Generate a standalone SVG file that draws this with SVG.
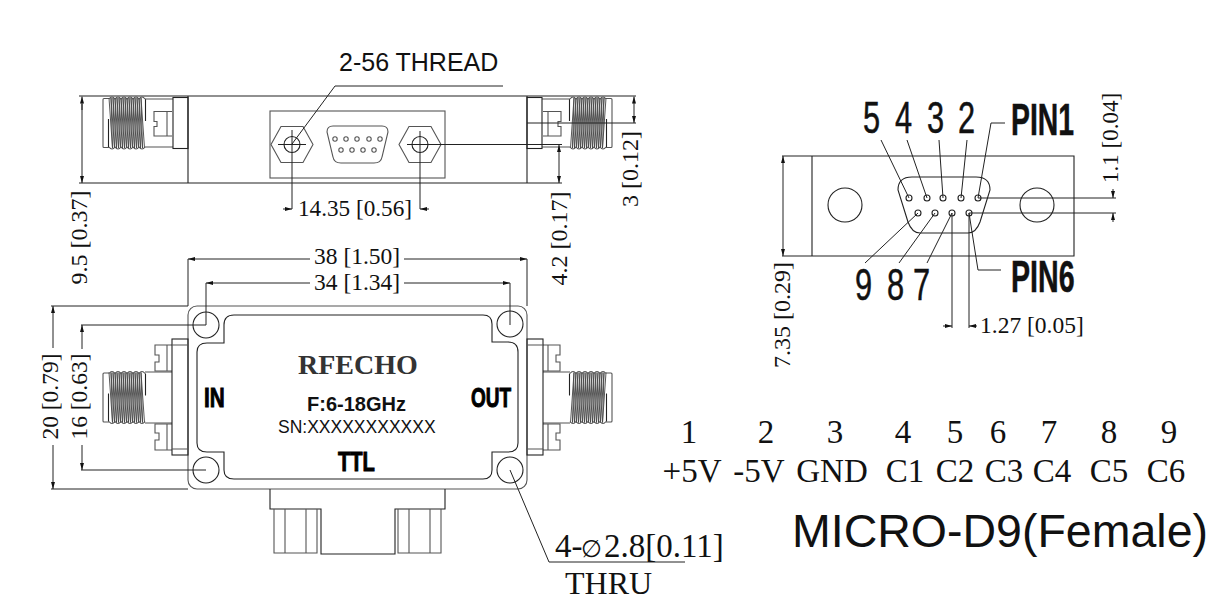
<svg xmlns="http://www.w3.org/2000/svg" xmlns:xlink="http://www.w3.org/1999/xlink" width="1210" height="602" viewBox="0 0 1210 602">
<style>
.l{fill:none;stroke:#222;stroke-width:1.1}
.g{fill:none;stroke:#555;stroke-width:1.1}
.t{fill:none;stroke:#444;stroke-width:.9}
.d{fill:none;stroke:#222;stroke-width:1}
.a{marker-end:url(#arr)}
.s{font-family:"Liberation Serif",serif;fill:#111}
.m{text-anchor:middle}
.f{font-family:"Liberation Sans",Arial,sans-serif;fill:#111}
.n{font-size:44px;stroke:#111;stroke-width:.5}
.b{font-weight:bold}
.h{font-family:"Liberation Sans",Arial,sans-serif;font-weight:bold;fill:#000;stroke:#000;stroke-width:1}
</style>
<defs>
<marker id="arr" viewBox="0 0 7 4" refX="7" refY="2" markerWidth="7" markerHeight="4" markerUnits="userSpaceOnUse" orient="auto"><path d="M0 0L7 2L0 4Z" fill="#111"/></marker>
<g id="thread">
<path class="g" d="M109 -24.500H104Q103 -24.500 103 -23.500V23.500Q103 24.500 104 24.500H109"/>
<path class="t" d="M109 -25l3.500 50l-1.500 -50l3.500 50l-1.500 -50l3.500 50l-1.500 -50l3.500 50l-1.500 -50l3.500 50l-1.500 -50l3.500 50l-1.500 -50l3.500 50l-1.500 -50l3.500 50l-1.500 -50l3.500 50l-1.500 -50l3.500 50l-1.500 -50l3.500 50l-1.500 -50l3.500 50l-1.500 -50l3.500 50l-1.500 -50l3.500 50l-1.500 -50l3.500 50l-1.500 -50l3.500 50l-1.500 -50l3.500 50"/>
<path class="g" d="M109 -24q3 -4 6 0q3 -4 6 0q3 -4 6 0q3 -4 6 0q3 -4 6 0q3 -4 6 0M109 24q3 4 6 0q3 4 6 0q3 4 6 0q3 4 6 0q3 4 6 0q3 4 6 0"/>
<path class="l" d="M145.500 -24V-2M108.500 -4V24"/>
</g>
<g id="conn-side">
<use xlink:href="#thread" href="#thread"/>
<path class="g" d="M145 -24H173M145 24H173"/>
<path class="g" d="M172 -11.500H154V-1.500H157V3.500H154V13H172M167 -11.500V13"/>
<rect class="l" x="173" y="-25.500" width="15" height="51"/>
</g>
<g id="conn-top">
<use xlink:href="#thread" href="#thread"/>
<path class="g" d="M145 -25.500H172M145 25.500H172"/>
<path class="g" d="M172 -52.500H155V-42.500H159V-35.500H155V-26.500H172M167 -52.500V-26.500M172 26.500H155V35.500H159V42.500H155V52.500H172M167 26.500V52.500"/>
<rect class="l" x="172" y="-58.500" width="16" height="116"/>
<path class="g" d="M172 -52.500H188M172 51.500H188"/>
</g>
<g id="hex">
<path class="g" d="M-21 0L-11 -18H11L21 0L11 18H-11Z"/>
<circle class="l" r="8"/>
</g>
</defs>

<g id="side-view">
<path class="l" d="M79 96H636M79 183H562M188 96V183M527 96V183"/>
<use xlink:href="#conn-side" href="#conn-side" transform="translate(0,123)"/>
<use xlink:href="#conn-side" href="#conn-side" transform="translate(715,123) scale(-1,1)"/>
<rect class="g" x="270" y="111" width="175" height="67"/>
<use xlink:href="#hex" href="#hex" transform="translate(292,144.500)"/>
<use xlink:href="#hex" href="#hex" transform="translate(420,144.500)"/>
<path class="g" d="M333 126H382Q388 126 388 132L382 157Q381 163 374 163H341Q334 163 333 157L327 132Q327 126 333 126Z"/>
<g class="g">
<circle cx="335" cy="139" r="2.200"/><circle cx="346" cy="139" r="2.200"/><circle cx="357" cy="139" r="2.200"/><circle cx="369" cy="139" r="2.200"/><circle cx="380" cy="139" r="2.200"/>
<circle cx="341" cy="150" r="2.200"/><circle cx="352" cy="150" r="2.200"/><circle cx="363" cy="150" r="2.200"/><circle cx="374" cy="150" r="2.200"/>
</g>
</g>

<g id="top-view">
<rect class="g" x="188" y="306" width="339" height="183" rx="9"/>
<path class="l" d="M197 352Q197 343 207 343H224V325Q224 315 234 315H483Q492 315 492 324V342H508Q518 342 518 352V443Q518 452 508 452H492V470Q492 479 483 479H234Q224 479 224 470V452H207Q197 452 197 443Z"/>
<circle class="l" cx="206" cy="325" r="13"/><circle class="l" cx="510" cy="324" r="13"/><circle class="l" cx="206" cy="470" r="13"/><circle class="l" cx="510" cy="470" r="13"/>
<use xlink:href="#conn-top" href="#conn-top" transform="translate(0,397.500)"/>
<use xlink:href="#conn-top" href="#conn-top" transform="translate(715,397.500) scale(-1,1)"/>
<path class="l" d="M270 489V509H321V554H395V509H445V489"/>
<path class="g" d="M274 509V553H317V509M285 509V553M306 509V553M398 509V553H441V509M409 509V553M430 509V553"/>
<text class="s b" x="298" y="374" font-size="28" style="fill:#333">RFECHO</text>
<text class="f b" x="307" y="411" font-size="20">F:6-18GHz</text>
<text class="f" x="278" y="433" font-size="17.500">SN:XXXXXXXXXXX</text>
<text class="h" transform="translate(204,407) scale(.74,1)" font-size="28">IN</text>
<text class="h" transform="translate(471,407) scale(.68,1)" font-size="28">OUT</text>
<text class="h" transform="translate(338,471) scale(.72,1)" font-size="28">TTL</text>
</g>

<g id="connector-view">
<path class="l" d="M782 156H1074V256H782M812 156V256M1074 156V256"/>
<circle class="l" cx="845" cy="205" r="17"/><circle class="l" cx="1037" cy="205" r="17"/>
<path class="l" d="M912 177H976Q990 177 990 190L980 222Q976 233 968 233H920Q912 233 908 222L898 190Q898 177 912 177Z"/>
<g class="l">
<circle cx="909" cy="198" r="3"/><circle cx="927" cy="198" r="3"/><circle cx="943" cy="198" r="3"/><circle cx="961" cy="198" r="3"/><circle cx="978" cy="198" r="3"/>
<circle cx="918" cy="213" r="3"/><circle cx="935" cy="213" r="3"/><circle cx="952" cy="213" r="3"/><circle cx="969" cy="213" r="3"/>
</g>
<g class="f n">
<text transform="translate(863,133) scale(.7,1)">5</text>
<text transform="translate(895,133) scale(.7,1)">4</text>
<text transform="translate(927,133) scale(.7,1)">3</text>
<text transform="translate(958,133) scale(.7,1)">2</text>
<text transform="translate(855,300) scale(.7,1)">9</text>
<text transform="translate(887,300) scale(.7,1)">8</text>
<text transform="translate(913,300) scale(.7,1)">7</text>
</g>
<text class="f n b" transform="translate(1011,135) scale(.645,1)">PIN1</text>
<text class="f n b" transform="translate(1011,292) scale(.65,1)">PIN6</text>
</g>

<g id="connectors">
<path class="d" d="M292 144L335 86H503"/>
<path class="d" d="M292 130V209M420 131V209M278 144.500H306M407 144.500H562"/>
<path class="d a" d="M283 209H292"/><path class="d a" d="M429 209H420"/>
<path class="d a" d="M82 110V96.500"/><path class="d" d="M82 104V170"/><path class="d a" d="M82 170V183"/>
<path class="d" d="M527 123H636"/>
<path class="d a" d="M634 110V96.500"/><path class="d a" d="M634 110V123"/>
<path class="d a" d="M559 165V145"/><path class="d a" d="M559 165V183"/>
<path class="d a" d="M310 259H188"/><path class="d a" d="M404 259H527"/>
<path class="d" d="M188 259V306M527 259V306"/>
<path class="d a" d="M310 283H206"/><path class="d a" d="M404 283H510"/>
<path class="d" d="M206 283V325M510 283V325"/>
<path class="d" d="M51 306H188M51 489H188M81 325H206M81 470H206"/>
<path class="d a" d="M53 348V306"/><path class="d a" d="M53 445V489"/>
<path class="d a" d="M82 349V325"/><path class="d a" d="M82 445V470"/>
<path class="d" d="M510 470L549 562H685"/>
<path class="d" d="M881 140L909 198M907 140L927 198M939 140L943 198M967 140L961 198M978 198L991 123H1005M865 263L918 213M899 263L935 213M927 263L952 213M969 213L978 270H1001"/>
<path class="d" d="M952 213V328M969 213V328M978 198H1116M969 213H1116"/>
<path class="d a" d="M943 326H952"/><path class="d a" d="M977 326H969"/>
<path class="d a" d="M1113 189V198"/><path class="d a" d="M1113 222V213"/>
<path class="d a" d="M783 210V156"/><path class="d a" d="M783 210V256"/>
</g>

<g id="labels">
<text class="f" x="339" y="71" font-size="25">2-56 THREAD</text>
<text class="s" x="298" y="216" font-size="23.200">14.35 [0.56]</text>
<text class="s m" transform="translate(87,237.500) rotate(-90)" font-size="24">9.5 [0.37]</text>
<text class="s m" transform="translate(567,238.500) rotate(-90)" font-size="24">4.2 [0.17]</text>
<text class="s m" transform="translate(638,169) rotate(-90)" font-size="24">3 [0.12]</text>
<text class="s" x="314" y="264" font-size="23.500">38 [1.50]</text>
<text class="s" x="314" y="290" font-size="23.500">34 [1.34]</text>
<text class="s m" transform="translate(58,396.500) rotate(-90)" font-size="23.500">20 [0.79]</text>
<text class="s m" transform="translate(87,396.500) rotate(-90)" font-size="23.500">16 [0.63]</text>
<text class="s" x="980" y="333" font-size="23.500">1.27 [0.05]</text>
<text class="s m" transform="translate(1118,138) rotate(-90)" font-size="23">1.1 [0.04]</text>
<text class="s m" transform="translate(790,315) rotate(-90)" font-size="24">7.35 [0.29]</text>
<text class="s" x="555" y="557" font-size="33">4-<tspan x="581" font-size="24">∅</tspan><tspan x="604">2.8[0.11]</tspan></text>
<text class="s" x="565" y="594" font-size="32">THRU</text>
<g class="s m" font-size="33">
<text x="689" y="443">1</text><text x="766" y="443">2</text><text x="835" y="443">3</text><text x="903" y="443">4</text><text x="955" y="443">5</text><text x="998" y="443">6</text><text x="1049" y="443">7</text><text x="1109" y="443">8</text><text x="1169" y="443">9</text>
<text x="692" y="482">+5V</text><text x="759" y="482">-5V</text><text x="832" y="482">GND</text><text x="905" y="482">C1</text><text x="955" y="482">C2</text><text x="1004" y="482">C3</text><text x="1052" y="482">C4</text><text x="1109" y="482">C5</text><text x="1166" y="482">C6</text>
</g>
<text class="f" x="792" y="547" font-size="47" textLength="416" lengthAdjust="spacingAndGlyphs">MICRO-D9(Female)</text>
</g>
</svg>
